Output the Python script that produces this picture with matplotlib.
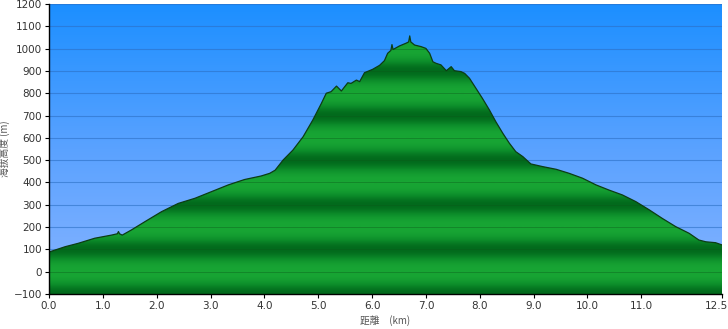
import numpy as np
import matplotlib
matplotlib.use("Agg")
import matplotlib.pyplot as plt
import matplotlib.transforms as mtrans
from matplotlib.colors import LinearSegmentedColormap
from matplotlib.patches import Polygon

dist_km = [0.00, 0.30, 0.54, 0.85, 1.16, 1.27, 1.29, 1.31, 1.36, 1.53, 1.78, 2.09,
           2.40, 2.71, 3.02, 3.33, 3.63, 3.94, 4.10, 4.20, 4.35, 4.53, 4.72, 4.90,
           5.06, 5.15, 5.24, 5.34, 5.43, 5.55, 5.61, 5.71, 5.77, 5.86, 6.01, 6.14,
           6.23, 6.29, 6.35, 6.37, 6.39, 6.51, 6.63, 6.68, 6.70, 6.72, 6.79, 6.91,
           7.00, 7.07, 7.13, 7.19, 7.28, 7.38, 7.47, 7.53, 7.65, 7.72, 7.81, 7.93,
           8.05, 8.18, 8.30, 8.43, 8.55, 8.67, 8.80, 8.95, 9.17, 9.42, 9.66, 9.91,
           10.16, 10.40, 10.65, 10.90, 11.15, 11.39, 11.64, 11.89, 12.07, 12.20,
           12.38, 12.50]
elev_m = [88, 112, 127, 150, 164, 170, 180, 170, 164, 187, 224, 269,
          306, 329, 359, 389, 413, 429, 441, 455, 501, 545, 605, 680,
          755, 800, 807, 832, 810, 847, 844, 859, 852, 892, 907, 925,
          946, 979, 992, 1018, 996, 1012, 1024, 1030, 1057, 1030, 1016, 1009,
          1001, 979, 941, 934, 927, 901, 919, 901, 897, 889, 867, 822,
          777, 725, 672, 620, 576, 538, 516, 483, 471, 459, 441, 419,
          389, 366, 344, 314, 277, 239, 202, 172, 142, 134,
          130, 120]

x_ticks = [0.0, 1.0, 2.0, 3.0, 4.0, 5.0, 6.0, 7.0, 8.0, 9.0, 10.0, 11.0, 12.5]
y_ticks = list(range(-100, 1201, 100))
x_label = "距離　(km)"
y_label = "海拔高度 (m)"

XMIN, XMAX = 0.0, 12.5
YMIN, YMAX = -100, 1200

fig = plt.figure(figsize=(7.28, 3.29), dpi=100)
ax = fig.add_axes([49/728, 1-294/329, (722-49)/728, (294-4)/329])
ax.set_xlim(XMIN, XMAX)
ax.set_ylim(YMIN, YMAX)

# blue gradient background
blue = LinearSegmentedColormap.from_list("b", ["#88b4ff", "#5aa2ff", "#1c8fff"])
grad = np.linspace(0, 1, 256).reshape(-1, 1)
ax.imshow(grad, cmap=blue, origin="lower", aspect="auto",
          extent=[XMIN, XMAX, YMIN, YMAX], zorder=0)

# grid lines
for yv in y_ticks:
    ax.axhline(yv, color="#2c6fc4", lw=0.8, alpha=0.6, zorder=1)

# banded green terrain
yy = np.linspace(YMIN, YMAX, 1300)
band = 0.5 + 0.5 * np.cos((yy - 100) / 200.0 * 2 * np.pi)  # 1 at odd hundreds (dark)
band = band ** 1.5
green = LinearSegmentedColormap.from_list("g", ["#18a534", "#0c8c2a", "#026a1c"])
img = ax.imshow(band.reshape(-1, 1), cmap=green, origin="lower", aspect="auto",
                extent=[XMIN, XMAX, YMIN, YMAX], zorder=2, vmin=0, vmax=1)
verts = [(XMIN, YMIN)] + list(zip(dist_km, elev_m)) + [(XMAX, YMIN)]
poly = Polygon(verts, closed=True, facecolor="none", edgecolor="none")
ax.add_patch(poly)
img.set_clip_path(poly)

# faint grid lines inside green
for yv in y_ticks:
    ln = ax.axhline(yv, color="#0b5a18", lw=0.7, alpha=0.4, zorder=3)
    ln.set_clip_path(poly)

ax.plot(dist_km, elev_m, color="#0c3d14", lw=0.9, zorder=4)

ax.set_xticks(x_ticks)
ax.set_xticklabels([f"{v:.1f}" for v in x_ticks])
ax.set_yticks(y_ticks)
ax.tick_params(axis="both", direction="out", length=3, width=0.8,
               labelsize=7.5, labelcolor="#333333", color="black", pad=2)
for s in ["top", "right"]:
    ax.spines[s].set_visible(False)
for s in ["left", "bottom"]:
    ax.spines[s].set_color("black")
    ax.spines[s].set_linewidth(1.0)
    ax.spines[s].set_zorder(5)

# shift the last x tick label leftwards so it stays inside the figure
last = ax.get_xticklabels()[-1]
last.set_transform(last.get_transform() + mtrans.ScaledTranslation(-6/100, 0, fig.dpi_scale_trans))

ax.set_xlabel(x_label, family=["Noto Sans CJK TC", "DejaVu Sans"], fontsize=7,
              color="#555555", labelpad=3)
ax.set_ylabel(y_label, family=["Noto Sans CJK TC", "DejaVu Sans"], fontsize=7,
              color="#555555", labelpad=2)
ax.yaxis.set_label_coords(-0.058, 0.5)

fig.savefig("out.png", dpi=100, facecolor="white")
